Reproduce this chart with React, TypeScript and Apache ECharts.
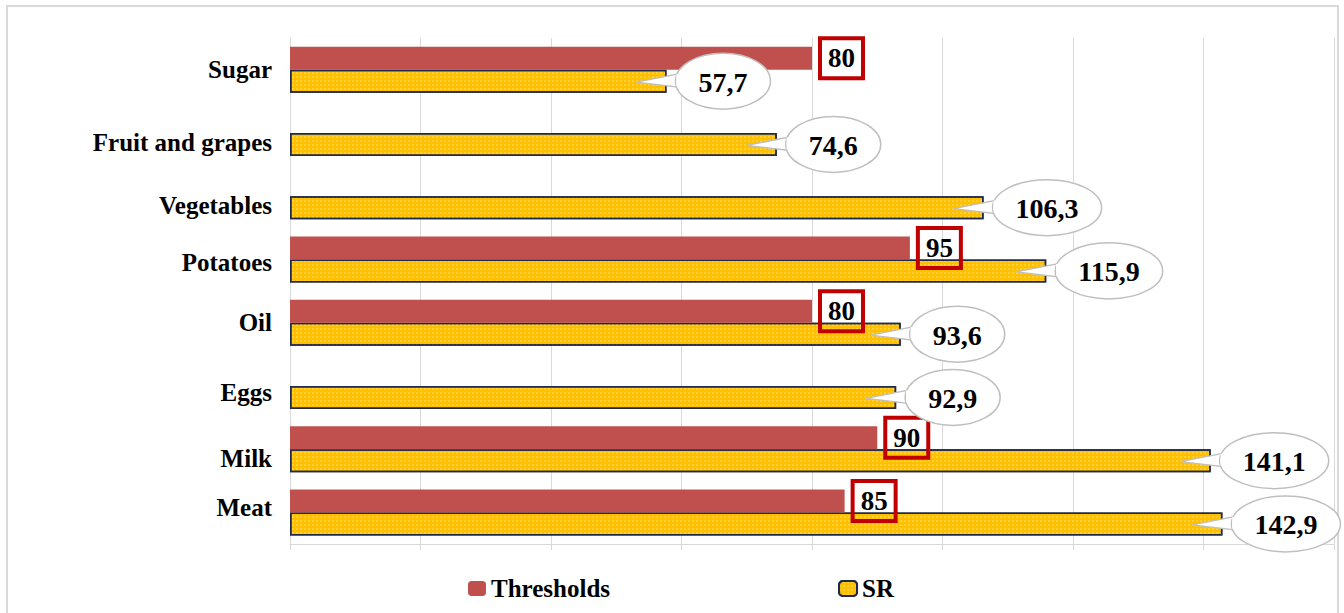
import React, { useEffect, useRef } from "react";
import * as echarts from "echarts";

const CATEGORIES = ["Sugar", "Fruit and grapes", "Vegetables", "Potatoes", "Oil", "Eggs", "Milk", "Meat"];
const THRESHOLDS: (number | null)[] = [80, null, null, 95, 80, null, 90, 85];
const SR: number[] = [57.7, 74.6, 106.3, 115.9, 93.6, 92.9, 141.1, 142.9];
const X_MIN = 0;
const X_MAX = 160;
const X_STEP = 20;

// styling only: vertical nudges of category labels (px)
const LABEL_SHIFT = [0, 10, 9, 3, 0, 7, 9, -5];

const FONT = '"Liberation Serif", "Times New Roman", serif';
const BAR_W = 23;
const SIGN = 1; // SR bar sits below the category centre
const CALLOUT_FONT = 28;

const fmt = (v: number) => v.toFixed(1).replace(".", ",");

let measureCtx: CanvasRenderingContext2D | null = null;
const textWidth = (t: string) => {
  if (!measureCtx) measureCtx = document.createElement("canvas").getContext("2d");
  if (!measureCtx) return t.length * 14;
  measureCtx.font = `bold ${CALLOUT_FONT}px ${FONT}`;
  return measureCtx.measureText(t).width;
};

const labelRich: Record<string, any> = {};
LABEL_SHIFT.forEach((s, i) => {
  labelRich["s" + i] = {
    fontFamily: FONT,
    fontWeight: "bold",
    fontSize: 25,
    color: "#000",
    padding: s >= 0 ? [2 * s, 0, 0, 0] : [0, 0, -2 * s, 0],
  };
});

export default function App() {
  const ref = useRef<HTMLDivElement>(null);
  useEffect(() => {
    if (!ref.current) return;
    const chart = echarts.init(ref.current, null, { renderer: "svg" });
    const option: any = {
      animation: false,
      backgroundColor: "#fff",
      graphic: [
        {
          type: "rect",
          shape: { x: 7, y: 6, width: 1331, height: 620 },
          style: { fill: "none", stroke: "#D9D9D9", lineWidth: 2 },
          silent: true,
          z: -1,
        },
      ],
      grid: { left: 290, right: 10, top: 38, bottom: 69, containLabel: false },
      legend: {
        data: ["Thresholds", "SR"],
        left: 463,
        top: 571,
        itemWidth: 18,
        itemHeight: 15,
        itemGap: 228,
        textStyle: { fontFamily: FONT, fontWeight: "bold", fontSize: 25, color: "#000", padding: [0, 0, 0, 0] },
      },
      xAxis: {
        type: "value",
        min: X_MIN,
        max: X_MAX,
        interval: X_STEP,
        axisLabel: { show: false },
        axisLine: { show: true, lineStyle: { color: "#D9D9D9" } },
        axisTick: { show: true, length: 6, lineStyle: { color: "#D9D9D9" } },
        splitLine: { show: true, lineStyle: { color: "#D9D9D9", width: 1 } },
      },
      yAxis: {
        type: "category",
        inverse: true,
        data: CATEGORIES,
        axisLine: { show: true, lineStyle: { color: "#D9D9D9" } },
        axisTick: { show: false },
        axisLabel: {
          interval: 0,
          margin: 18,
          fontFamily: FONT,
          fontWeight: "bold",
          fontSize: 25,
          color: "#000",
          formatter: (value: string, index: number) => `{s${index}|${value}}`,
          rich: labelRich,
        },
      },
      series: [
        {
          name: "Thresholds",
          type: "bar",
          data: THRESHOLDS.map((v) => (v == null ? "-" : v)),
          barWidth: BAR_W,
          barGap: "0%",
          itemStyle: { color: "#C0504D" },
          label: {
            show: true,
            position: "right",
            distance: 8,
            formatter: (p: any) => String(p.value),
            fontFamily: FONT,
            fontWeight: "bold",
            fontSize: 27,
            lineHeight: 30,
            color: "#000",
            borderColor: "#C00000",
            borderWidth: 2,
            padding: [6, 8, 4, 8],
            backgroundColor: "transparent",
          },
          z: 3,
        },
        {
          name: "SR",
          type: "bar",
          data: SR,
          barWidth: BAR_W,
          barGap: "0%",
          itemStyle: {
            color: "#FFC000",
            borderColor: "#1F2A4A",
            borderWidth: 1.5,
            decal: {
              symbol: "rect",
              symbolSize: 0.7,
              color: "rgba(255,255,255,0.45)",
              dashArrayX: [1.5, 1.5],
              dashArrayY: [1.5, 1.5],
              rotation: 0,
            },
          },
          z: 2,
        },
        {
          name: "SR callouts",
          type: "custom",
          clip: false,
          z: 4,
          data: SR.map((v, i) => [v, i]),
          encode: { x: 0, y: 1 },
          renderItem: (_params: any, api: any) => {
            const v = api.value(0) as number;
            const idx = api.value(1) as number;
            const end = api.coord([v, idx]);
            const cy = end[1] + (BAR_W / 2) * SIGN;
            const text = fmt(v);
            const tw = textWidth(text);
            const rx = tw / 2 + 23;
            const ry = 28;
            const cx = end[0] + 9 + rx;
            const left = cx - rx;
            return {
              type: "group",
              children: [
                {
                  type: "polygon",
                  shape: { points: [[end[0] - 30, cy + 1], [left + 12, cy - 9], [left + 12, cy + 7]] },
                  style: { fill: "#fff", stroke: "#BFBFBF", lineWidth: 1.5 },
                },
                {
                  type: "ellipse",
                  shape: { cx, cy, rx, ry },
                  style: { fill: "#fff", stroke: "#BFBFBF", lineWidth: 1.5 },
                },
                {
                  type: "rect",
                  shape: { x: left + 0.8, y: cy - 7, width: 14, height: 12 },
                  style: { fill: "#fff" },
                },
                {
                  type: "text",
                  style: {
                    text,
                    x: cx,
                    y: cy + 1,
                    align: "center",
                    verticalAlign: "middle",
                    fontFamily: FONT,
                    fontWeight: "bold",
                    fontSize: CALLOUT_FONT,
                    fill: "#000",
                  },
                },
              ],
            };
          },
        },
      ],
    };
    chart.setOption(option);
    return () => chart.dispose();
  }, []);
  return (
    <div
      ref={ref}
      style={{ position: "absolute", left: 0, top: 0, width: 1344, height: 613, background: "#fff" }}
    />
  );
}
